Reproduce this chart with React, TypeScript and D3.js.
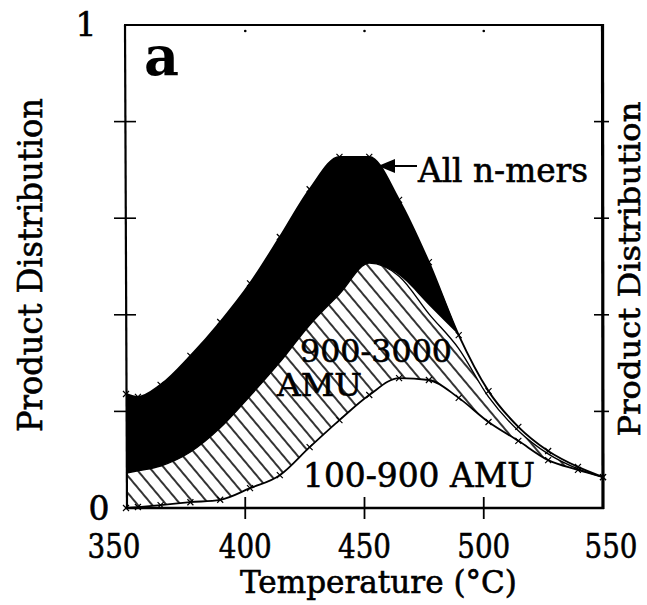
import React from "react";
import * as d3 from "d3";

// ---- data ----
const temps = [350, 355, 364.5, 377, 389.5, 402, 414.5, 427, 439.5, 452, 464.5, 477, 489.5, 502, 514.5, 527, 539.5, 550];
const allNmers = [0.236, 0.23, 0.255, 0.315, 0.385, 0.465, 0.561, 0.66, 0.727, 0.727, 0.638, 0.509, 0.358, 0.242, 0.168, 0.118, 0.085, 0.064];
const amu900to3000 = [0.072, 0.077, 0.087, 0.116, 0.166, 0.232, 0.302, 0.379, 0.443, 0.507, 0.48, 0.402, 0.33, 0.23, 0.16, 0.112, 0.081, 0.064];
const blackEdge = [0.072, 0.077, 0.087, 0.116, 0.166, 0.232, 0.302, 0.379, 0.443, 0.507, 0.482, 0.42, 0.358];
const amu100to900 = [0.0, 0.002, 0.006, 0.012, 0.017, 0.041, 0.068, 0.126, 0.182, 0.234, 0.269, 0.265, 0.228, 0.178, 0.139, 0.099, 0.079, 0.064];

const xTicks = [400, 450, 500];
const xTickLabels = ["350", "400", "450", "500", "550"];
const yTicks = [0.2, 0.4, 0.6, 0.8];
const yTickLabels = ["0", "1"];

const FONT = "'DejaVu Serif', serif";
const INK = { stroke: "#000", strokeWidth: 0.6 };

export default function App() {
  const W = 647, H = 605;
  const x = d3.scaleLinear().domain([350, 550]).range([126, 603]);
  const y = d3.scaleLinear().domain([0, 1]).range([508, 25]);

  const curve = d3.curveMonotoneX;
  const pts = (vals: number[]) => vals.map((v, i) => [temps[i], v] as [number, number]);

  const lineGen = d3.line<[number, number]>().x(d => x(d[0])).y(d => y(d[1])).curve(curve);

  const hatchData = temps.map((t, i) => ({ t, lo: amu100to900[i], hi: amu900to3000[i] }));
  const hatchArea = d3.area<{ t: number; lo: number; hi: number }>()
    .x(d => x(d.t)).y0(d => y(d.lo)).y1(d => y(d.hi)).curve(curve)(hatchData);

  const blackData = blackEdge.map((v, i) => ({ t: temps[i], lo: v, hi: allNmers[i] }));
  const blackArea = d3.area<{ t: number; lo: number; hi: number }>()
    .x(d => x(d.t)).y0(d => y(d.lo)).y1(d => y(d.hi)).curve(curve)(blackData);

  const xLabelShift: Record<string, number> = { "350": -12, "550": 8 };

  const cross = (cx: number, cy: number, k: string) => (
    <path key={k} d={`M${cx - 3},${cy - 3}L${cx + 3},${cy + 3}M${cx - 3},${cy + 3}L${cx + 3},${cy - 3}`} stroke="#000" strokeWidth={1.2} />
  );

  return (
    <svg width={W} height={H} style={{ position: "absolute", left: 0, top: 0, background: "#fff" }}>
      <defs>
        <pattern id="hatch" patternUnits="userSpaceOnUse" width={11} height={11} patternTransform="rotate(-40)">
          <line x1={1} y1={0} x2={1} y2={11} stroke="#000" strokeWidth={1.6} />
        </pattern>
      </defs>
      <rect x={0} y={0} width={W} height={H} fill="#fff" />

      {/* areas */}
      <path d={hatchArea || ""} fill="url(#hatch)" />
      <path d={blackArea || ""} fill="#000" />

      {/* lines */}
      <path d={lineGen(pts(amu100to900)) || ""} fill="none" stroke="#000" strokeWidth={1.8} />
      <path d={lineGen(pts(amu900to3000)) || ""} fill="none" stroke="#000" strokeWidth={1.4} />
      <path d={lineGen(pts(allNmers)) || ""} fill="none" stroke="#000" strokeWidth={1.9} />

      {/* markers */}
      {allNmers.map((v, i) => cross(x(temps[i]), y(v), "a" + i))}
      {amu100to900.map((v, i) => cross(x(temps[i]), y(v), "b" + i))}

      {/* frame */}
      <line x1={124} y1={25} x2={604} y2={25} stroke="#000" strokeWidth={2.2} />
      <line x1={125} y1={25} x2={127} y2={509} stroke="#000" strokeWidth={2.2} />
      <line x1={125} y1={508} x2={604} y2={508} stroke="#000" strokeWidth={2.4} />
      <line x1={602.5} y1={24} x2={603} y2={509} stroke="#000" strokeWidth={3.2} />

      {/* y ticks */}
      {yTicks.map(t => (
        <g key={"yt" + t}>
          <line x1={114} x2={136} y1={y(t)} y2={y(t)} stroke="#000" strokeWidth={1.6} />
          <line x1={594} x2={609} y1={y(t)} y2={y(t)} stroke="#000" strokeWidth={1.6} />
        </g>
      ))}
      {/* x ticks */}
      {xTicks.map(t => (
        <g key={"xt" + t}>
          <line x1={x(t)} x2={x(t)} y1={497} y2={519} stroke="#000" strokeWidth={1.8} />
          <circle cx={x(t)} cy={31} r={1.3} fill="#000" />
        </g>
      ))}

      {/* tick labels */}
      {xTickLabels.map(l => (
        <text key={"xl" + l} x={x(+l) + (xLabelShift[l] || 0)} y={558} textAnchor="middle"
          fontFamily={FONT} fontSize={33} textLength={53} lengthAdjust="spacingAndGlyphs" {...INK}>{l}</text>
      ))}
      <text x={99} y={520} textAnchor="middle" fontFamily={FONT} fontSize={33} {...INK}>{yTickLabels[0]}</text>
      <text x={86} y={36} textAnchor="middle" fontFamily={FONT} fontSize={33} {...INK}>{yTickLabels[1]}</text>

      {/* panel letter */}
      <text x={144} y={75} fontFamily={FONT} fontSize={54} fontWeight="bold">a</text>

      {/* axis titles */}
      <text x={378.5} y={593} textAnchor="middle" fontFamily={FONT} fontSize={31} textLength={277} lengthAdjust="spacingAndGlyphs" {...INK}>Temperature (°C)</text>
      <text transform="translate(42,265) rotate(-90)" textAnchor="middle" fontFamily={FONT} fontSize={34} textLength={334} lengthAdjust="spacingAndGlyphs" {...INK}>Product Distribution</text>
      <text transform="translate(640,269) rotate(-90)" textAnchor="middle" fontFamily={FONT} fontSize={30} textLength={335} lengthAdjust="spacingAndGlyphs" {...INK}>Product Distribution</text>

      {/* annotations */}
      <line x1={392} y1={166} x2={417} y2={166} stroke="#000" strokeWidth={2} />
      <path d="M378,166L395,159L395,173Z" fill="#000" />
      <text x={418} y={182} fontFamily={FONT} fontSize={33} textLength={170} lengthAdjust="spacingAndGlyphs" {...INK}>All n-mers</text>
      <text x={300} y={362} fontFamily={FONT} fontSize={31} textLength={152} lengthAdjust="spacingAndGlyphs" {...INK}>900-3000</text>
      <text x={277} y={396} fontFamily={FONT} fontSize={32} textLength={85} lengthAdjust="spacingAndGlyphs" {...INK}>AMU</text>
      <text x={303} y={487} fontFamily={FONT} fontSize={33} textLength={232} lengthAdjust="spacingAndGlyphs" {...INK}>100-900 AMU</text>
    </svg>
  );
}
